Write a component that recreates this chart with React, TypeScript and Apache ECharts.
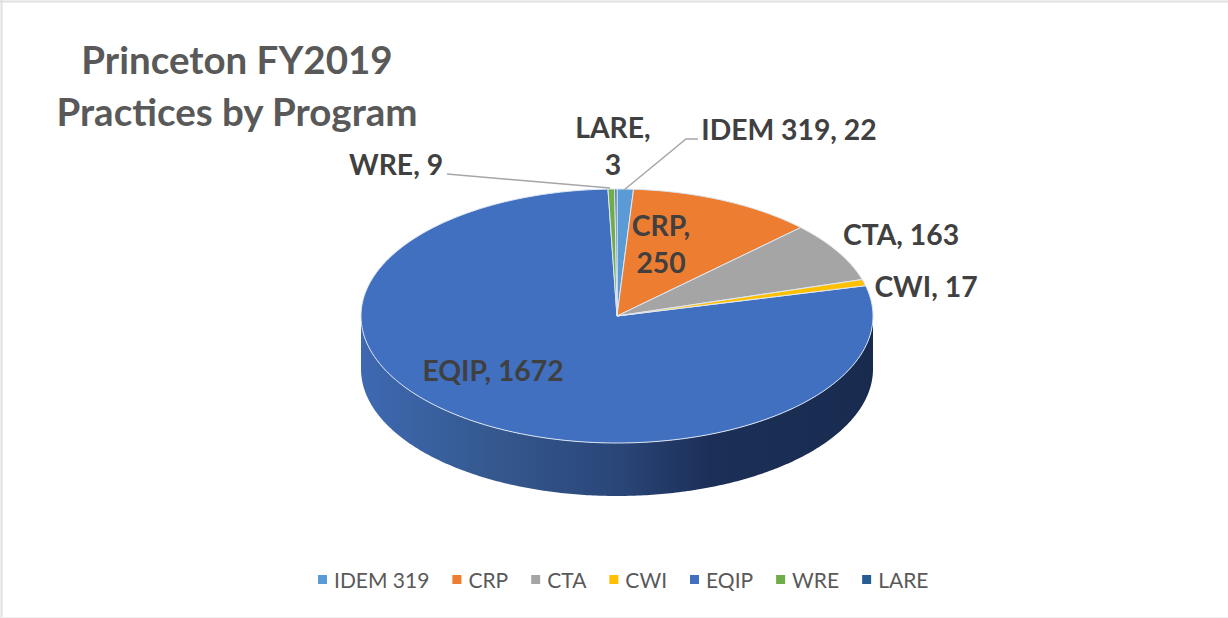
import React, { useEffect, useRef } from "react";
import * as echarts from "echarts";

const categories = ["IDEM 319", "CRP", "CTA", "CWI", "EQIP", "WRE", "LARE"];
const values = [22, 250, 163, 17, 1672, 9, 3];
const colors = ["#5b9bd5", "#ed7d31", "#a5a5a5", "#ffc000", "#4170c0", "#70ad47", "#255e91"];
const titleLines = ["Princeton FY2019", "Practices by Program"];

const CX = 617, CY = 316, RX = 256, RY = 127, DEPTH = 53;
const total = values.reduce((a, b) => a + b, 0);
const FONT = "Lato";
const LABEL = "#404040";

const pt = (deg: number, dy = 0): [number, number] => {
  const r = (deg * Math.PI) / 180;
  return [CX + RX * Math.sin(r), CY - RY * Math.cos(r) + dy];
};
const arc = (a: number, b: number, dy = 0) => {
  const n = Math.max(2, Math.ceil(Math.abs(b - a) * 1.5));
  const out: [number, number][] = [];
  for (let i = 0; i <= n; i++) out.push(pt(a + ((b - a) * i) / n, dy));
  return out;
};

const labelSpec: Record<string, { x: number; y: number; lines: string[] }> = {
  "IDEM 319": { x: 789, y: 129, lines: ["IDEM 319, 22"] },
  CRP: { x: 661, y: 225, lines: ["CRP,", "250"] },
  CTA: { x: 901, y: 234, lines: ["CTA, 163"] },
  CWI: { x: 926, y: 286, lines: ["CWI, 17"] },
  EQIP: { x: 493, y: 370, lines: ["EQIP, 1672"] },
  WRE: { x: 396, y: 164, lines: ["WRE, 9"] },
  LARE: { x: 613, y: 127, lines: ["LARE,", "3"] },
};

const leaders: Record<string, [number, number][]> = {
  "IDEM 319": [[624, 190], [686, 139], [698, 139]],
  WRE: [[447, 174], [610, 188]],
};

const sideGradient = new echarts.graphic.LinearGradient(0, 0, 1, 0, [
  { offset: 0, color: "#3e69b2" },
  { offset: 0.25, color: "#35598f" },
  { offset: 0.5, color: "#2a4679" },
  { offset: 0.68, color: "#1c2f57" },
  { offset: 1, color: "#182b4f" },
]);

export default function App() {
  const ref = useRef<HTMLDivElement>(null);
  useEffect(() => {
    const chart = echarts.init(ref.current!, null, { renderer: "svg" });
    let acc = 0;
    const spans = values.map((v) => {
      const s = (acc / total) * 360;
      acc += v;
      return [s, (acc / total) * 360];
    });
    const series = categories.map((name, i) => ({
      type: "custom",
      name,
      coordinateSystem: "none",
      data: [values[i]],
      itemStyle: { color: colors[i] },
      z: name === "EQIP" ? 2 : 3,
      renderItem: () => {
        const [a, b] = spans[i];
        const children: any[] = [];
        if (name === "EQIP") {
          children.push({
            type: "polygon",
            shape: { points: [...arc(90, 270), ...arc(270, 90, DEPTH)] },
            style: { fill: sideGradient, stroke: "none" },
          });
        }
        children.push({
          type: "polygon",
          shape: { points: [[CX, CY], ...arc(a, b)] },
          style: { fill: colors[i], stroke: "#dfe8f4", lineWidth: 1 },
        });
        if (leaders[name]) {
          children.push({
            type: "polyline",
            shape: { points: leaders[name] },
            style: { fill: "none", stroke: "#a6a6a6", lineWidth: 1.5 },
          });
        }
        const spec = labelSpec[name];
        spec.lines.forEach((line, k) => {
          children.push({
            type: "text",
            z2: 10,
            style: {
              text: line,
              x: spec.x,
              y: spec.y + k * 37,
              align: "center",
              verticalAlign: "middle",
              fill: LABEL,
              font: `bold 28.3px ${FONT}`,
            },
          });
        });
        return { type: "group", children };
      },
    }));
    chart.setOption({
      animation: false,
      backgroundColor: "#ffffff",
      graphic: [
        {
          type: "line",
          silent: true,
          shape: { x1: 0, y1: 1.5, x2: 1228, y2: 1.5 },
          style: { stroke: "#e0e0e0", lineWidth: 2 },
        },
        {
          type: "line",
          silent: true,
          shape: { x1: 1.5, y1: 0, x2: 1.5, y2: 618 },
          style: { stroke: "#e0e0e0", lineWidth: 2 },
        },
        {
          type: "line",
          silent: true,
          shape: { x1: 0, y1: 617.5, x2: 1228, y2: 617.5 },
          style: { stroke: "#efefef", lineWidth: 1 },
        },
        ...titleLines.map((t, k) => ({
          type: "text",
          style: {
            text: t,
            x: 237,
            y: 59 + k * 52,
            align: "center",
            verticalAlign: "middle",
            fill: "#595959",
            font: `bold 38.5px ${FONT}`,
          },
        })),
      ],
      legend: {
        data: categories,
        left: 313,
        top: 564,
        icon: "rect",
        itemWidth: 9,
        itemHeight: 9,
        itemGap: 23,
        selectedMode: false,
        textStyle: { color: "#595959", fontSize: 21, fontFamily: FONT, padding: [0, 0, 0, 2] },
      },
      series,
    });
    return () => chart.dispose();
  }, []);
  return (
    <div
      ref={ref}
      style={{ position: "fixed", left: 0, top: 0, width: 1228, height: 618 }}
    />
  );
}
